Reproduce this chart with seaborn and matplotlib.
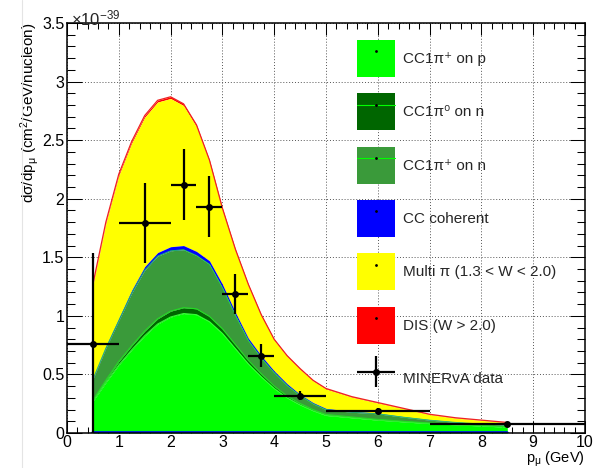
import numpy as np
import pandas as pd
import seaborn as sns
import matplotlib
matplotlib.use("Agg")
import matplotlib.pyplot as plt
from matplotlib.patches import Patch
from matplotlib.lines import Line2D
from matplotlib.legend_handler import HandlerErrorbar
from matplotlib.ticker import MultipleLocator, FuncFormatter

# ---------------- data (units of 1e-39 cm^2/GeV/nucleon) ----------------
p_mu = [0.5, 0.75, 1.0, 1.25, 1.5, 1.75, 2.0, 2.25, 2.5, 2.75, 3.0, 3.25, 3.5,
        3.75, 4.0, 4.25, 4.5, 4.75, 5.0, 5.5, 6.0, 6.5, 7.0, 7.5, 8.0, 8.5]
cc1pip_p = [0.27, 0.43, 0.58, 0.71, 0.83, 0.93, 0.99, 1.02, 1.01, 0.95, 0.85, 0.72, 0.59,
            0.48, 0.38, 0.30, 0.24, 0.19, 0.15, 0.13, 0.11, 0.095, 0.08, 0.07, 0.06, 0.05]
cc1pi0_n = [0.01, 0.02, 0.03, 0.035, 0.04, 0.045, 0.05, 0.05, 0.05, 0.045, 0.04, 0.035, 0.03,
            0.025, 0.02, 0.015, 0.012, 0.01, 0.008, 0.007, 0.006, 0.005, 0.005, 0.004, 0.004, 0.003]
cc1pip_n = [0.18, 0.275, 0.35, 0.45, 0.52, 0.535, 0.515, 0.495, 0.455, 0.445, 0.35, 0.25, 0.17,
            0.135, 0.115, 0.09, 0.068, 0.05, 0.042, 0.04, 0.048, 0.035, 0.025, 0.017, 0.013, 0.014]
cc_coh = [0.01, 0.015, 0.02, 0.025, 0.03, 0.03, 0.035, 0.035, 0.035, 0.03, 0.03, 0.025, 0.02,
          0.02, 0.015, 0.015, 0.01, 0.01, 0.01, 0.008, 0.006, 0.005, 0.005, 0.004, 0.003, 0.003]
multi_pi = [0.79, 1.048, 1.216, 1.255, 1.275, 1.285, 1.265, 1.195, 1.065, 0.846, 0.637, 0.528, 0.45,
            0.34, 0.262, 0.233, 0.214, 0.185, 0.165, 0.121, 0.086, 0.067, 0.042, 0.032, 0.028, 0.018]
dis = [0.01, 0.012, 0.014, 0.015, 0.015, 0.015, 0.015, 0.015, 0.015, 0.014, 0.013, 0.012, 0.01,
       0.01, 0.008, 0.007, 0.006, 0.005, 0.005, 0.004, 0.004, 0.003, 0.003, 0.003, 0.002, 0.002]

data_x = [0.5, 1.5, 2.25, 2.75, 3.25, 3.75, 4.5, 6.0, 8.5]
data_y = [0.76, 1.79, 2.12, 1.93, 1.19, 0.66, 0.32, 0.19, 0.074]
data_xerr = [0.5, 0.5, 0.25, 0.25, 0.25, 0.25, 0.5, 1.0, 1.5]
data_yerr = [0.78, 0.34, 0.30, 0.26, 0.17, 0.10, 0.04, 0.02, 0.01]

labels = ["CC1\u03c0\u207a on p", "CC1\u03c0\u2070 on n", "CC1\u03c0\u207a on n",
          "CC coherent", "Multi \u03c0 (1.3 < W < 2.0)", "DIS (W > 2.0)", "MINERvA data"]
colors = ["#00ff00", "#006600", "#3a9a3a", "#0000ff", "#ffff00", "#ff0000"]

# ---------------- style ----------------
sns.set_theme(style="ticks")
plt.rcParams["font.family"] = ["Liberation Sans", "DejaVu Sans"]
plt.rcParams["mathtext.fontset"] = "custom"
plt.rcParams["mathtext.rm"] = "Liberation Sans"
plt.rcParams["mathtext.it"] = "Liberation Sans:italic"
plt.rcParams["mathtext.bf"] = "Liberation Sans:bold"

fig = plt.figure(figsize=(5.94, 4.68), dpi=100)
ax = fig.add_axes([0.1128, 0.0748, 0.872, 0.8761])
ax.set_axisbelow(True)

x = np.array(p_mu)
comps = [cc1pip_p, cc1pi0_n, cc1pip_n, cc_coh, multi_pi, dis]
cum = np.cumsum(np.array(comps), axis=0)
lower = [np.zeros_like(x)] + [cum[i] for i in range(len(comps) - 1)]

for i in range(len(comps) - 1, -1, -1):
    ax.fill_between(x, lower[i], cum[i], color=colors[i], lw=0, zorder=1)

df = pd.DataFrame({"p": x, "c1": cum[0], "c2": cum[1], "c3": cum[2], "c6": cum[5],
                   "zero": np.zeros_like(x)})
sns.lineplot(data=df, x="p", y="c1", color="#33ff33", lw=0.8, ax=ax, zorder=2)
sns.lineplot(data=df, x="p", y="c2", color="#22dd22", lw=0.8, ax=ax, zorder=2)
sns.lineplot(data=df, x="p", y="c3", color="#22cc55", lw=0.6, ax=ax, zorder=2)
sns.lineplot(data=df, x="p", y="c6", color="#ee2222", lw=0.9, ax=ax, zorder=2)
sns.lineplot(data=df, x="p", y="zero", color="#0000ff", lw=2.6, ax=ax, zorder=2)

eb = ax.errorbar(data_x, data_y, xerr=data_xerr, yerr=data_yerr, fmt="o", color="black",
                 ms=4, elinewidth=1.6, capsize=0, zorder=4)

# ---------------- axes ----------------
ax.set_xlim(0, 10)
ax.set_ylim(0, 3.5)
ax.xaxis.set_major_locator(MultipleLocator(1))
ax.xaxis.set_minor_locator(MultipleLocator(0.2))
ax.yaxis.set_major_locator(MultipleLocator(0.5))
ax.yaxis.set_minor_locator(MultipleLocator(0.1))
fmt = FuncFormatter(lambda v, pos: "%g" % v)
ax.xaxis.set_major_formatter(fmt)
ax.yaxis.set_major_formatter(fmt)
ax.tick_params(which="both", direction="in", top=True, right=True, width=0.75,
               labelsize=11.5, colors="black")
ax.tick_params(axis="x", which="major", length=8.6, pad=1.2)
ax.tick_params(axis="x", which="minor", length=4.3)
ax.tick_params(axis="y", which="major", length=10.8, pad=2)
ax.tick_params(axis="y", which="minor", length=5.8)
for s in ax.spines.values():
    s.set_linewidth(1.1)
    s.set_color("black")
ax.grid(True, which="major", ls=(0, (1, 2)), color="#555555", lw=0.7)

ax.set_ylabel("d\u03c3/dp$_{\\mathregular{\u03bc}}$ (cm$^{\\mathregular{2}}$/GeV/nucleon)",
              loc="top", fontsize=11, labelpad=1, color="black")
ax.set_xlabel("p$_{\\mathregular{\u03bc}}$ (GeV)", loc="right", fontsize=10.5, labelpad=0,
              color="black")
ax.text(0.008, 0.995, "\u00d710$^{\\mathregular{-39}}$", transform=ax.transAxes,
        ha="left", va="baseline", fontsize=12)

# ---------------- legend ----------------
dot = lambda: Line2D([], [], marker="o", ms=1, color="black", ls="none")
handles = [
    (Patch(facecolor=colors[0], edgecolor="none"), dot()),
    (Patch(facecolor=colors[1], edgecolor="none"), Line2D([], [], color="#00ff00", lw=0.8), dot()),
    (Patch(facecolor=colors[2], edgecolor="none"), Line2D([], [], color="#00ff00", lw=0.8), dot()),
    (Patch(facecolor=colors[3], edgecolor="none"), dot()),
    (Patch(facecolor=colors[4], edgecolor="none"), dot()),
    (Patch(facecolor=colors[5], edgecolor="none"), dot()),
    eb,
]
ax.legend(handles, labels, loc="upper left", bbox_to_anchor=(0.5598, 0.9585),
          frameon=False, fontsize=11, handlelength=2.49, handleheight=3.35,
          labelspacing=1.07, handletextpad=0.55, borderaxespad=0, borderpad=0,
          handler_map={type(eb): HandlerErrorbar(xerr_size=1.25, yerr_size=1.0)})

fig.add_artist(Line2D([0.037, 0.037], [0, 1], color="#e4e4e4", lw=0.8))

fig.savefig("out.png", dpi=100)
